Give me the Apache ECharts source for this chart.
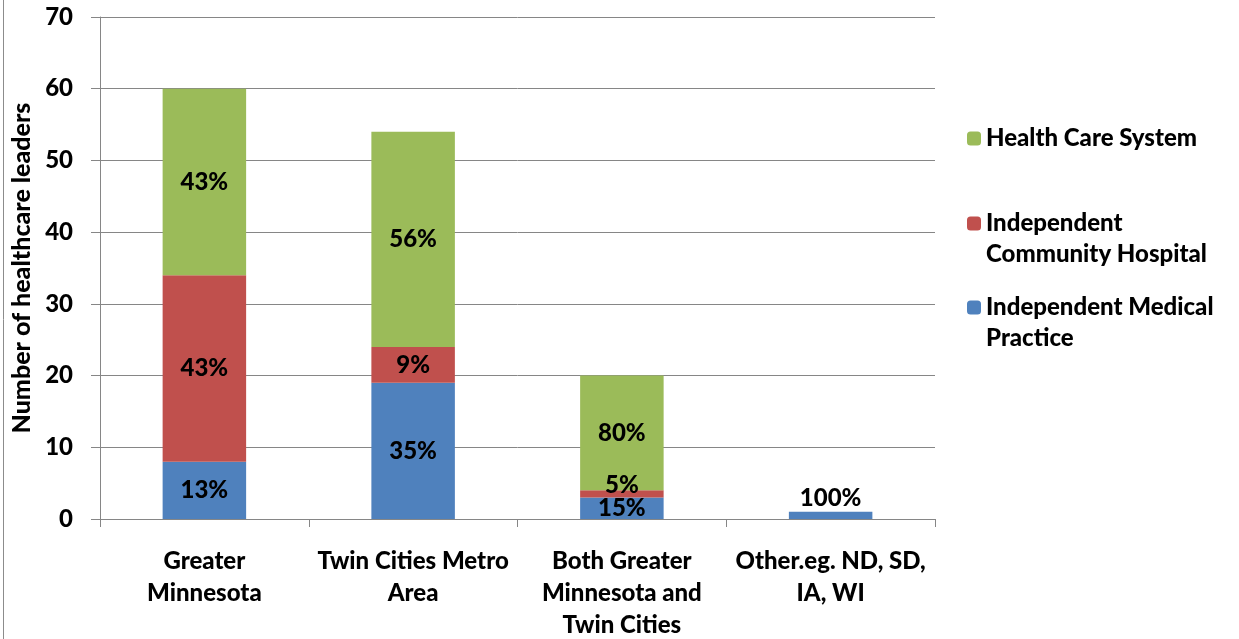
<!DOCTYPE html>
<html><head><meta charset="utf-8">
<script src="https://cdn.jsdelivr.net/npm/echarts@6/dist/echarts.min.js"></script>
<style>html,body{margin:0;padding:0;background:#fff}#c{width:1239px;height:639px}</style>
</head><body><div id="c"></div>
<script>
const categories = ['Greater\nMinnesota', 'Twin Cities Metro\nArea', 'Both Greater\nMinnesota and\nTwin Cities', 'Other.eg. ND, SD,\nIA, WI'];
const practice = [8, 19, 3, 1];
const hospital = [26, 5, 1, 0];
const system = [26, 30, 16, 0];
const practiceLabels = ['13%', '35%', '15%', '100%'];
const hospitalLabels = ['43%', '9%', '5%', ''];
const systemLabels = ['43%', '56%', '80%', ''];
const seriesNames = ['Independent Medical Practice', 'Independent Community Hospital', 'Health Care System'];
const legendLines = { 'Health Care System': 'Health Care System', 'Independent Community Hospital': ' \nIndependent\nCommunity Hospital', 'Independent Medical Practice': ' \nIndependent Medical\nPractice' };
const yTicks = [0, 10, 20, 30, 40, 50, 60, 70];

const FONT = 'Lato';
const W = 900;
const colors = ['#4F81BD', '#C0504D', '#9BBB59'];

function build(values, labels, idx) {
  return values.map((v, i) => {
    const item = { value: v, label: { formatter: labels[i] } };
    if (v > 0 && v <= 1) {
      item.label.position = 'top';
      item.label.distance = idx === 0 ? 2 : -7;
    }
    return item;
  });
}
const chart = echarts.init(document.getElementById('c'));
const labelStyle = { show: true, position: 'inside', color: '#000', fontFamily: FONT, fontWeight: W, fontSize: 24 };
const mkSeries = (name, values, labels, idx) => ({
  name, type: 'bar', stack: 'a', barWidth: '40%', data: build(values, labels, idx),
  itemStyle: { color: colors[idx] }, label: labelStyle, emphasis: { disabled: true }
});
const legendText = { fontFamily: FONT, fontWeight: W, fontSize: 24, color: '#000', lineHeight: 31 };
const mkLegend = (name, top) => ({
  data: [name], formatter: (n) => legendLines[n], left: 967, top, padding: 0,
  itemWidth: 14, itemHeight: 14, textStyle: legendText, selectedMode: false
});
chart.setOption({
  animation: false,
  grid: { left: 100, right: 304, top: 17, bottom: 120, outerBoundsMode: 'none', containLabel: false },
  xAxis: {
    type: 'category', data: categories,
    axisLine: { lineStyle: { color: '#868686' } },
    axisTick: { show: true, length: 8, lineStyle: { color: '#868686' } },
    axisLabel: { color: '#000', fontFamily: FONT, fontWeight: W, fontSize: 24, lineHeight: 32, margin: 26, interval: 0 }
  },
  yAxis: {
    type: 'value', min: yTicks[0], max: yTicks[yTicks.length - 1], interval: 10,
    name: 'Number of healthcare leaders', nameLocation: 'middle', nameGap: 64,
    nameTextStyle: { color: '#000', fontFamily: FONT, fontWeight: W, fontSize: 25 },
    axisLine: { show: true, lineStyle: { color: '#868686' } },
    axisTick: { show: true, length: 9, lineStyle: { color: '#868686' } },
    splitLine: { lineStyle: { color: '#868686' } },
    axisLabel: { color: '#000', fontFamily: FONT, fontWeight: W, fontSize: 24, margin: 27 }
  },
  legend: [
    mkLegend(seriesNames[2], 123),
    mkLegend(seriesNames[1], 177),
    mkLegend(seriesNames[0], 261)
  ],
  graphic: [{ type: 'line', shape: { x1: 3.5, y1: 0, x2: 3.5, y2: 639 }, style: { stroke: '#8c8c8c', lineWidth: 1 } }],
  series: [
    mkSeries(seriesNames[0], practice, practiceLabels, 0),
    mkSeries(seriesNames[1], hospital, hospitalLabels, 1),
    mkSeries(seriesNames[2], system, systemLabels, 2)
  ]
});
</script></body></html>
